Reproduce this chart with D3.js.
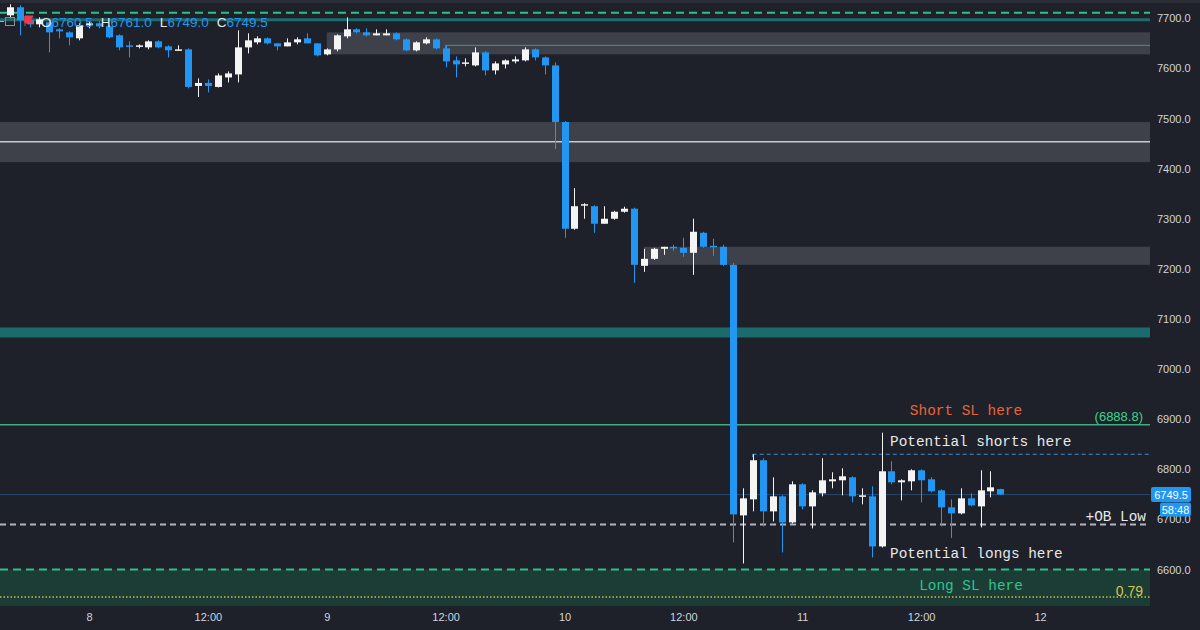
<!DOCTYPE html>
<html><head><meta charset="utf-8">
<script src="https://cdn.jsdelivr.net/npm/d3@7/dist/d3.min.js"></script>
<style>
html,body{margin:0;padding:0;background:#1e2129;}
svg{display:block;}
</style></head>
<body>
<svg id="chart" width="1200" height="630"></svg>
<script>
// ---- DATA (hourly candles, hour 0 = day 8 00:00) ----
const firstHour = -8;
const opens  = [7706,7722,7696,7688,7692,7678,7672,7660,7686,7690,7684,7666,7646,7644,7642,7654,7644,7636,7638,7565,7571,7563,7582,7588,7642,7652,7660,7650,7644,7652,7660,7650,7628,7638,7664,7678,7672,7666,7666,7670,7658,7636,7650,7658,7640,7616,7610,7606,7632,7596,7608,7614,7616,7638,7622,7606,7493,7280,7327,7325,7290,7300,7314,7320,7206,7220,7240,7244,7242,7232,7272,7246,7244,7208,6708,6740,6818,6716,6746,6694,6770,6726,6752,6776,6778,6784,6746,6746,6646,6796,6774,6776,6798,6780,6758,6724,6712,6742,6726,6756,6760.5];
const highs  = [7728,7726,7700,7702,7696,7680,7674,7690,7694,7694,7686,7668,7654,7648,7656,7656,7646,7646,7640,7580,7578,7590,7594,7676,7670,7664,7662,7650,7660,7662,7670,7650,7640,7668,7702,7680,7680,7678,7678,7672,7660,7654,7662,7660,7646,7624,7620,7642,7634,7614,7618,7624,7642,7640,7624,7612,7495,7361,7331,7327,7325,7316,7324,7322,7240,7242,7244,7248,7262,7300,7274,7260,7248,7212,6762,6830,6822,6784,6748,6776,6772,6758,6822,6794,6802,6786,6762,6766,6873,6816,6780,6800,6800,6784,6760,6740,6762,6752,6798,6796,6761];
const lows   = [7700,7666,7682,7682,7632,7660,7646,7656,7680,7680,7660,7636,7622,7640,7638,7640,7622,7636,7560,7543,7552,7562,7572,7572,7630,7648,7648,7636,7644,7648,7650,7624,7626,7634,7660,7670,7664,7666,7666,7656,7634,7634,7648,7638,7602,7582,7604,7604,7586,7588,7600,7610,7614,7616,7588,7439,7262,7278,7300,7272,7290,7298,7312,7172,7194,7218,7228,7236,7224,7188,7242,7226,7206,6654,6612,6716,6686,6696,6634,6692,6720,6682,6746,6762,6748,6734,6730,6624,6644,6770,6738,6758,6734,6754,6686,6663,6710,6726,6684,6744,6749];
const closes = [7722,7696,7688,7698,7672,7674,7662,7686,7690,7684,7662,7642,7644,7646,7654,7642,7636,7638,7563,7571,7565,7586,7590,7642,7656,7660,7650,7644,7652,7658,7650,7626,7638,7666,7678,7672,7666,7670,7670,7658,7636,7652,7658,7640,7614,7608,7612,7632,7596,7610,7616,7618,7638,7622,7606,7493,7280,7325,7329,7290,7300,7314,7320,7208,7220,7240,7244,7242,7232,7274,7244,7244,7208,6710,6742,6818,6716,6746,6694,6770,6726,6754,6778,6780,6786,6746,6748,6646,6796,6774,6778,6798,6778,6756,6724,6712,6742,6728,6758,6764,6749.5];

// axis ticks
const priceTicks = [6600,6700,6800,6900,7000,7100,7200,7300,7400,7500,7600,7700];
const timeTickHours  = [0,12,24,36,48,60,72,84,96];
const timeTickLabels = ["8","12:00","9","12:00","10","12:00","11","12:00","12"];

// zones / levels (price & time values)
const grayZoneFrom   = [24, -9, 56];
const grayZoneTop    = [7672, 7493, 7244];
const grayZoneBottom = [7628, 7413, 7208];
const innerTealLine  = {from: 36, price: 7646};
const whiteMidLine   = 7453.5;
const topGreenDashed = 7711;
const topTealLine    = 7697;
const tealBand       = [7083, 7063];
const shortSL        = 6888.8;
const shortsDashed   = {from: 67, price: 6830};
const lastPrice      = 6749.5;
const obLow          = 6690;
const longSL         = 6600;
const fib079         = 6545;
const legendO = "6760.5", legendH = "6761.0", legendL = "6749.0", legendC = "6749.5";

// ---- LAYOUT ----
const svg = d3.select("#chart");
const W = 1200, H = 630;
const plotRight = 1150, plotTop = 3, plotBottom = 606;
const x = d3.scaleLinear().domain([0, 96]).range([89, 1040]);
const y = d3.scaleLinear().domain([6600, 7700]).range([569.5, 18.3]);

svg.append("rect").attr("width", W).attr("height", H).attr("fill", "#1e2129");
svg.append("rect").attr("x",0).attr("y",0).attr("width",W).attr("height",3).attr("fill","#2a2d36");

const defs = svg.append("defs");
defs.append("clipPath").attr("id","plotclip").append("rect")
  .attr("x",0).attr("y",plotTop).attr("width",plotRight).attr("height",plotBottom-plotTop);

const plot = svg.append("g").attr("clip-path","url(#plotclip)");

// long SL green zone
plot.append("rect").attr("x",0).attr("width",plotRight)
  .attr("y", y(longSL)).attr("height", plotBottom - y(longSL))
  .attr("fill","#1b3d36");

// gray zones
grayZoneFrom.forEach((f,i)=>{
  const x0 = Math.max(0, x(f));
  plot.append("rect").attr("x", x0).attr("width", plotRight - x0)
    .attr("y", y(grayZoneTop[i])).attr("height", y(grayZoneBottom[i]) - y(grayZoneTop[i]))
    .attr("fill","#3e414a");
});
// white line in big zone
plot.append("line").attr("x1",0).attr("x2",plotRight)
  .attr("y1",y(whiteMidLine)).attr("y2",y(whiteMidLine))
  .attr("stroke","#c8cacf").attr("stroke-width",1.5);
// inner teal thin line
plot.append("line").attr("x1",x(innerTealLine.from)).attr("x2",plotRight)
  .attr("y1",y(innerTealLine.price)).attr("y2",y(innerTealLine.price))
  .attr("stroke","#3a9a95").attr("stroke-width",1);
plot.append("line").attr("x1",x(innerTealLine.from)).attr("x2",x(innerTealLine.from))
  .attr("y1",y(innerTealLine.price)).attr("y2",y(innerTealLine.price)+3)
  .attr("stroke","#3a9a95").attr("stroke-width",1);

// top green dashed
plot.append("line").attr("x1",0).attr("x2",plotRight)
  .attr("y1",y(topGreenDashed)).attr("y2",y(topGreenDashed))
  .attr("stroke","#2fc08a").attr("stroke-width",2).attr("stroke-dasharray","8,5");
// top teal line
plot.append("line").attr("x1",0).attr("x2",plotRight)
  .attr("y1",y(topTealLine)).attr("y2",y(topTealLine))
  .attr("stroke","#1c6b6d").attr("stroke-width",3);
// teal band
plot.append("rect").attr("x",0).attr("width",plotRight)
  .attr("y",y(tealBand[0])).attr("height",y(tealBand[1])-y(tealBand[0]))
  .attr("fill","#1b6b6d");
// short SL line
plot.append("line").attr("x1",0).attr("x2",plotRight)
  .attr("y1",y(shortSL)).attr("y2",y(shortSL))
  .attr("stroke","#45a87e").attr("stroke-width",1.5);
// shorts dashed
plot.append("line").attr("x1",x(shortsDashed.from)).attr("x2",plotRight)
  .attr("y1",y(shortsDashed.price)).attr("y2",y(shortsDashed.price))
  .attr("stroke","#3f8fd6").attr("stroke-width",1).attr("stroke-dasharray","4,3");
plot.append("line").attr("x1",x(shortsDashed.from)).attr("x2",x(shortsDashed.from))
  .attr("y1",y(shortsDashed.price)).attr("y2",y(shortsDashed.price)+3)
  .attr("stroke","#3f8fd6").attr("stroke-width",1);
// last price line
plot.append("line").attr("x1",0).attr("x2",plotRight)
  .attr("y1",y(lastPrice)).attr("y2",y(lastPrice))
  .attr("stroke","#27486e").attr("stroke-width",1);
// OB low dashed
plot.append("line").attr("x1",0).attr("x2",plotRight)
  .attr("y1",y(obLow)).attr("y2",y(obLow))
  .attr("stroke","#b2b5be").attr("stroke-width",2).attr("stroke-dasharray","6,4");
// long SL dashed
plot.append("line").attr("x1",0).attr("x2",plotRight)
  .attr("y1",y(longSL)).attr("y2",y(longSL))
  .attr("stroke","#2fc08a").attr("stroke-width",2).attr("stroke-dasharray","8,5");
// fib dotted
plot.append("line").attr("x1",0).attr("x2",plotRight)
  .attr("y1",y(fib079)).attr("y2",y(fib079))
  .attr("stroke","#c9b55a").attr("stroke-width",1.5).attr("stroke-dasharray","1.5,2");

// candles
const candles = opens.map((o,i)=>({h: firstHour + i, o, hi: highs[i], lo: lows[i], c: closes[i]}));
const up = "#f4f4f4", down = "#2196f3";
const bodyW = 7;
const cg = plot.append("g");
cg.selectAll("line.wick").data(candles).join("line")
  .attr("x1", d=>Math.round(x(d.h))+0.5).attr("x2", d=>Math.round(x(d.h))+0.5)
  .attr("y1", d=>y(d.hi)).attr("y2", d=>y(d.lo))
  .attr("stroke", d=> d.c >= d.o ? up : down).attr("stroke-width",1);
cg.selectAll("rect.body").data(candles).join("rect")
  .attr("x", d=>Math.round(x(d.h)) - 3)
  .attr("width", bodyW)
  .attr("y", d=>y(Math.max(d.o,d.c)))
  .attr("height", d=>Math.max(1.5, Math.abs(y(d.o)-y(d.c))))
  .attr("fill", d=> d.c >= d.o ? up : down);

// annotations
const mono = "'Liberation Mono','DejaVu Sans Mono',monospace";
function note(txt, xx, yy, color, anchor){
  svg.append("text").attr("x",xx).attr("y",yy).attr("fill",color)
    .attr("font-family",mono).attr("font-size","14.4px")
    .attr("text-anchor",anchor||"start").text(txt);
}
note("Short SL here", 966, y(shortSL)-10, "#e8643a", "middle");
note("Potential shorts here", 890, y(shortsDashed.price)-8, "#e8e8e8");
note("+OB Low", 1146, y(obLow)-3, "#e8e8e8", "end");
note("Potential longs here", 890, y(longSL)-12, "#e8e8e8");
note("Long SL here", 971, y(longSL)+20, "#2fc58e", "middle");

const sans = "'Liberation Sans',Arial,Helvetica,sans-serif";
svg.append("text").attr("x",1143).attr("y",y(shortSL)-4).attr("text-anchor","end")
  .attr("fill","#3fd38f").attr("font-family",sans).attr("font-size","13px").text("(" + shortSL.toFixed(1) + ")");
svg.append("text").attr("x",1143).attr("y",y(fib079)-1).attr("text-anchor","end")
  .attr("fill","#d6c54b").attr("font-family",sans).attr("font-size","14px").text("0.79");

// right axis
const yAxis = d3.axisRight(y).tickValues(priceTicks).tickFormat(d3.format(".1f")).tickSize(0).tickPadding(7);
const ya = svg.append("g").attr("transform",`translate(${plotRight},0)`).call(yAxis);
ya.select(".domain").remove();
ya.selectAll("text").attr("fill","#d1d4dc").attr("font-family",sans).attr("font-size","11px");

// bottom axis
const xAxis = d3.axisBottom(x).tickValues(timeTickHours).tickFormat((d,i)=>timeTickLabels[i]).tickSize(0).tickPadding(7);
const xa = svg.append("g").attr("transform",`translate(0,${plotBottom})`).call(xAxis);
xa.select(".domain").remove();
xa.selectAll("text").attr("fill","#d1d4dc").attr("font-family",sans).attr("font-size","11px");

// price label boxes
svg.append("rect").attr("x",1151).attr("y",y(lastPrice)-7.5).attr("width",40).attr("height",15).attr("rx",2).attr("fill","#2196f3");
svg.append("text").attr("x",1171).attr("y",y(lastPrice)+4).attr("text-anchor","middle")
  .attr("fill","#ffffff").attr("font-family",sans).attr("font-size","11px").text(lastPrice.toFixed(1));
svg.append("rect").attr("x",1160).attr("y",y(lastPrice)+8).attr("width",31).attr("height",14).attr("rx",2).attr("fill","#2196f3");
svg.append("text").attr("x",1175.5).attr("y",y(lastPrice)+19).attr("text-anchor","middle")
  .attr("fill","#ffffff").attr("font-family",sans).attr("font-size","11px").text("58:48");

// legend icons
svg.append("line").attr("x1",0).attr("x2",4).attr("y1",21.5).attr("y2",21.5).attr("stroke","#b2b5be");
svg.append("rect").attr("x",5.5).attr("y",17.5).attr("width",9).attr("height",8).attr("fill","none").attr("stroke","#8a8d96");
svg.append("path").attr("d","M25,16 L25,26 M25,16 L33,16 L31,19.5 L33,23 L25,23 Z").attr("fill","#f0394f").attr("stroke","#f0394f");

// OHLC legend
const lg = svg.append("text").attr("x",41).attr("y",27).attr("font-family",sans).attr("font-size","13.5px");
[["O",legendO],["H",legendH],["L",legendL],["C",legendC]].forEach(([k,v],i)=>{
  lg.append("tspan").attr("fill","#e6e6e6").attr("dx", i===0?0:8).text(k);
  lg.append("tspan").attr("fill","#2196f3").text(v);
});
</script>
</body></html>
